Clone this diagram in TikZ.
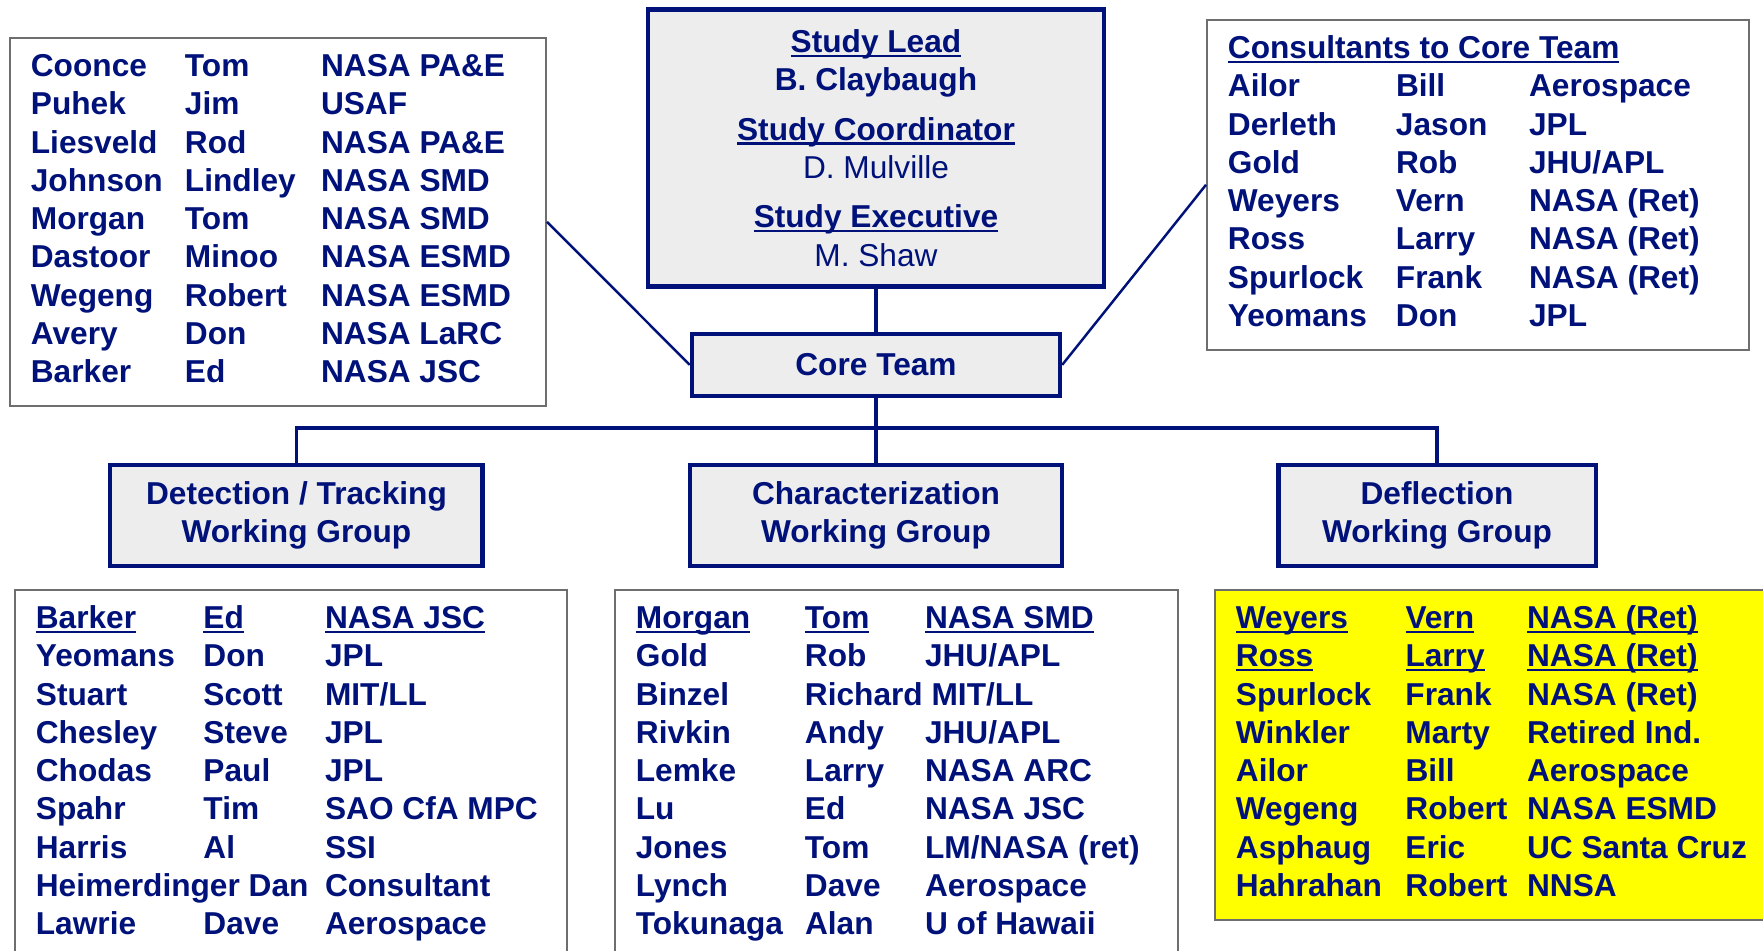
\documentclass[tikz,border=0pt]{standalone}
\usepackage{fontspec}
\setmainfont{Liberation Sans}
\usetikzlibrary{positioning}

\definecolor{ink}{RGB}{0,18,122}
\definecolor{boxgray}{RGB}{237,237,237}
\definecolor{framegray}{RGB}{110,110,110}
\definecolor{memo}{RGB}{255,255,0}

\setlength\tabcolsep{0pt}
\newcommand\rosterfont{\fontsize{9}{10.87}\selectfont\bfseries}
% underline that runs through the descenders
\newcommand\ulname[1]{\leavevmode\setbox0\hbox{#1}\rlap{\rule[-0.14em]{\wd0}{0.07em}}\box0}

\tikzset{
    head/.style =   {rectangle,
                    fill=boxgray,
                    draw=ink,
                    text=ink,
                    line width=1.2pt,
                    font=\rosterfont,
                    align=center},
    roster/.style = {rectangle,
                    fill=white,
                    draw=framegray,
                    text=ink,
                    line width=0.5pt,
                    font=\rosterfont,
                    anchor=north west,
                    inner xsep=0.21cm,
                    inner ysep=0.12cm},
    link/.style =   {draw=ink,
                    line width=1.1pt},
    spoke/.style =  {draw=ink,
                    line width=0.7pt}}

\begin{document}
\begin{tikzpicture}[x=0.01cm,y=-0.01cm]
    \useasboundingbox (0,0) rectangle (1763,950);

    % study leadership and core team
    \node[head, minimum width=4.55cm, minimum height=2.77cm] (study) at (876,148)
        {\ulname{Study Lead}\\ B. Claybaugh\\[3.2pt]
         \ulname{Study Coordinator}\\ {\mdseries D. Mulville}\\[3.2pt]
         \ulname{Study Executive}\\ {\mdseries M. Shaw}};
    \node[head, minimum width=3.68cm, minimum height=0.62cm] (core) [below=0.43cm of study] {Core Team};

    % working groups
    \node[head, minimum width=3.72cm, minimum height=1.01cm] (charWG) [below=0.65cm of core]
        {Characterization\\ Working Group};
    \node[head, minimum width=3.72cm, minimum height=1.01cm] (detWG) [left=2.03cm of charWG]
        {Detection / Tracking\\ Working Group};
    \node[head, minimum width=3.17cm, minimum height=1.01cm] (deflWG) [right=2.12cm of charWG]
        {Deflection\\ Working Group};

    % core team members
    \node[roster] (coreList) at (9,37) {%
        \begin{tabular}{p{1.54cm}p{1.36cm}p{2.04cm}}
        Coonce & Tom & NASA PA\&E\\
        Puhek & Jim & USAF\\
        Liesveld & Rod & NASA PA\&E\\
        Johnson & Lindley & NASA SMD\\
        Morgan & Tom & NASA SMD\\
        Dastoor & Minoo & NASA ESMD\\
        Wegeng & Robert & NASA ESMD\\
        Avery & Don & NASA LaRC\\
        Barker & Ed & NASA JSC
        \end{tabular}};

    % consultants
    \node[roster] (consult) at (1206,19) {%
        \begin{tabular}{p{1.68cm}p{1.33cm}p{1.99cm}}
        \multicolumn{3}{l}{\ulname{Consultants to Core Team}}\\
        Ailor & Bill & Aerospace\\
        Derleth & Jason & JPL\\
        Gold & Rob & JHU/APL\\
        Weyers & Vern & NASA (Ret)\\
        Ross & Larry & NASA (Ret)\\
        Spurlock & Frank & NASA (Ret)\\
        Yeomans & Don & JPL
        \end{tabular}};

    % detection / tracking members
    \node[roster] (detList) at (14,589) {%
        \begin{tabular}{p{1.675cm}p{1.215cm}p{2.21cm}}
        \ulname{Barker} & \ulname{Ed} & \ulname{NASA JSC}\\
        Yeomans & Don & JPL\\
        Stuart & Scott & MIT/LL\\
        Chesley & Steve & JPL\\
        Chodas & Paul & JPL\\
        Spahr & Tim & SAO CfA MPC\\
        Harris & Al & SSI\\
        \multicolumn{2}{l}{Heimerdinger Dan} & Consultant\\
        Lawrie & Dave & Aerospace
        \end{tabular}};

    % characterization members
    \node[roster] (charList) at (614,589) {%
        \begin{tabular}{p{1.69cm}p{1.20cm}p{2.32cm}}
        \ulname{Morgan} & \ulname{Tom} & \ulname{NASA SMD}\\
        Gold & Rob & JHU/APL\\
        Binzel & \multicolumn{2}{l}{Richard MIT/LL}\\
        Rivkin & Andy & JHU/APL\\
        Lemke & Larry & NASA ARC\\
        Lu & Ed & NASA JSC\\
        Jones & Tom & LM/NASA (ret)\\
        Lynch & Dave & Aerospace\\
        Tokunaga & Alan & U of Hawaii
        \end{tabular}};

    % deflection members
    \node[roster, fill=memo] (deflList) at (1214,589) {%
        \begin{tabular}{p{1.695cm}p{1.215cm}p{2.6cm}}
        \ulname{Weyers} & \ulname{Vern} & \ulname{NASA (Ret)}\\
        \ulname{Ross} & \ulname{Larry} & \ulname{NASA (Ret)}\\
        Spurlock & Frank & NASA (Ret)\\
        Winkler & Marty & Retired Ind.\\
        Ailor & Bill & Aerospace\\
        Wegeng & Robert & NASA ESMD\\
        Asphaug & Eric & UC Santa Cruz\\
        Hahrahan & Robert & NNSA
        \end{tabular}};

    % tree
    \coordinate (bar) at (0,428);
    \draw[link] (study) -- (core);
    \draw[link] (core) -- (charWG);
    \draw[link] (detWG.north) -- (detWG.north |- bar) -- (deflWG.north |- bar) -- (deflWG.north);
    \draw[spoke] (coreList.east) -- (core.west);
    \draw[spoke] (core.east) -- (consult.west);
\end{tikzpicture}
\end{document}
